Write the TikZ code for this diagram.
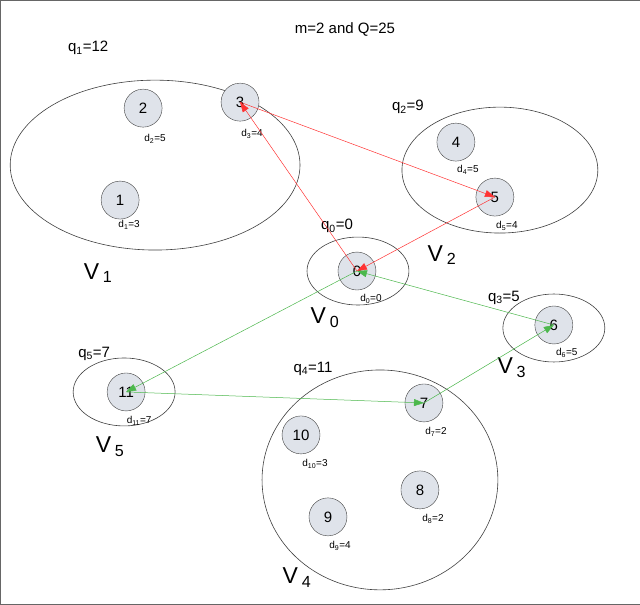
\documentclass[tikz,border=0pt]{standalone}
\usepackage{fontspec}
\setmainfont{Liberation Sans}
\usetikzlibrary{arrows.meta}
\definecolor{vfill}{HTML}{DFE3EA}
\begin{document}
\begin{tikzpicture}[x=1pt,y=-1pt,
  cl/.style={draw=black!75,line width=0.6pt},
  vx/.style={circle,draw=black!75,fill=vfill,minimum size=38pt,inner sep=0pt,font=\fontsize{15}{15}\selectfont},
  dl/.style={font=\fontsize{10}{10}\selectfont},
  ql/.style={font=\fontsize{15}{15}\selectfont},
  vl/.style={font=\fontsize{23}{23}\selectfont},
  ra/.style={draw=red!80,line width=0.5pt,-{Triangle[length=10pt,width=7pt]}},
  ga/.style={draw=green!60!black!70,line width=0.5pt,-{Triangle[length=10pt,width=7pt]}}]
\draw[draw=black!60,fill=white] (0,0) rectangle (640,604);
\draw[cl] (155,165) ellipse (145 and 85);
\draw[cl] (500,170) ellipse (98 and 63);
\draw[cl] (358,271) ellipse (51 and 34);
\draw[cl] (554,328) ellipse (51 and 34);
\draw[cl] (124,392) ellipse (51 and 34);
\draw[cl] (380,480) ellipse (118 and 110);
\node[vx] (n1) at (120,200) {1};
\node[vx] (n2) at (143,108) {2};
\node[vx] (n3) at (240,102) {3};
\node[vx] (n4) at (456,142) {4};
\node[vx] (n5) at (495,197) {5};
\node[vx] (n0) at (357,271) {0};
\node[vx] (n6) at (554,325) {6};
\node[vx] (n11) at (126,392) {11};
\node[vx] (n7) at (424,403) {7};
\node[vx] (n10) at (301,435) {10};
\node[vx] (n8) at (420,490) {8};
\node[vx] (n9) at (328,517) {9};
\node[dl] (d1) at (129,225) {d\textsubscript{1}=3};
\node[dl] (d2) at (155,139) {d\textsubscript{2}=5};
\node[dl] (d3) at (252,134) {d\textsubscript{3}=4};
\node[dl] (d4) at (468,170) {d\textsubscript{4}=5};
\node[dl] (d5) at (507,226) {d\textsubscript{5}=4};
\node[dl] (d0) at (371,299) {d\textsubscript{0}=0};
\node[dl] (d6) at (567,353) {d\textsubscript{6}=5};
\node[dl] (d11) at (139,421) {d\textsubscript{11}=7};
\node[dl] (d7) at (436,432) {d\textsubscript{7}=2};
\node[dl] (d10) at (315,464) {d\textsubscript{10}=3};
\node[dl] (d8) at (433,519) {d\textsubscript{8}=2};
\node[dl] (d9) at (340,546) {d\textsubscript{9}=4};
\node[ql] (title) at (345,29) {m=2 and Q=25};
\node[ql] (q1) at (88,48) {q\textsubscript{1}=12};
\node[ql] (q2) at (408,107) {q\textsubscript{2}=9};
\node[ql] (q0) at (337,226) {q\textsubscript{0}=0};
\node[ql] (q3) at (504,298) {q\textsubscript{3}=5};
\node[ql] (q5) at (94,354) {q\textsubscript{5}=7};
\node[ql] (q4) at (313,369) {q\textsubscript{4}=11};
\node[vl] (v1) at (98,273) {V\,\textsubscript{1}};
\node[vl] (v2) at (442,255) {V\,\textsubscript{2}};
\node[vl] (v0) at (325,318) {V\,\textsubscript{0}};
\node[vl] (v3) at (512,368) {V\,\textsubscript{3}};
\node[vl] (v5) at (110,447) {V\,\textsubscript{5}};
\node[vl] (v4) at (297,578) {V\,\textsubscript{4}};
\draw[ra] (n0.center) -- (n3.center);
\draw[ra] (n3.center) -- (n5.center);
\draw[ra] (n5.center) -- (n0.center);
\draw[ga] (n0.center) -- (n11.center);
\draw[ga] (n11.center) -- (n7.center);
\draw[ga] (n7.center) -- (n6.center);
\draw[ga] (n6.center) -- (n0.center);
\end{tikzpicture}
\end{document}
